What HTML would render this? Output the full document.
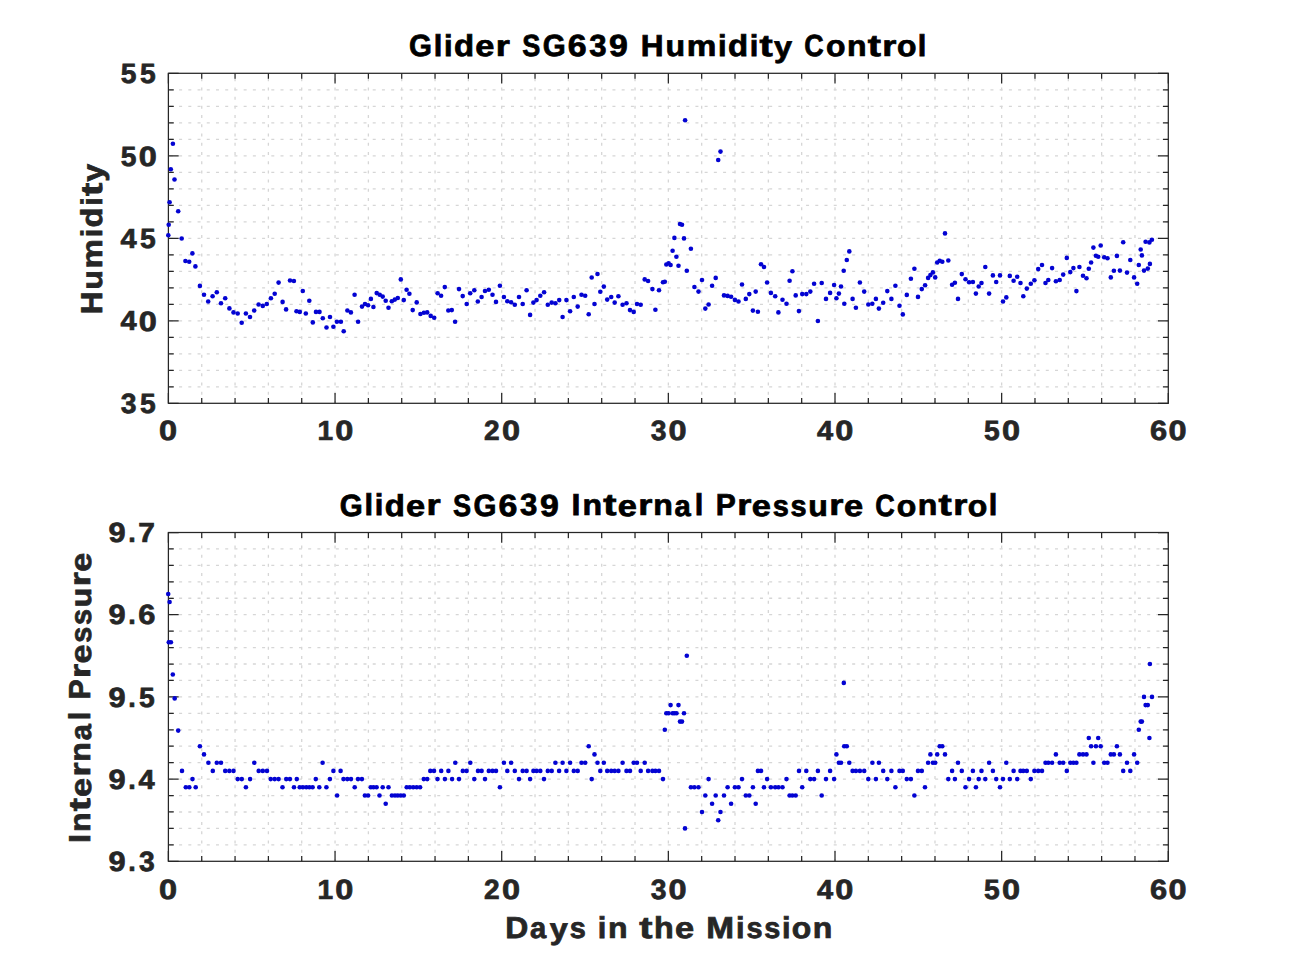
<!DOCTYPE html>
<html><head><meta charset="utf-8"><style>
html,body{margin:0;padding:0;background:#fff;overflow:hidden}
svg{display:block}
text{font-family:"Liberation Sans",sans-serif;font-weight:bold;font-kerning:none;text-rendering:geometricPrecision}
</style></head><body>
<svg width="1291" height="968" viewBox="0 0 1291 968">
<rect width="1291" height="968" fill="#fff"/>
<path d="M168.40 386.80H1168.30 M168.40 370.30H1168.30 M168.40 353.80H1168.30 M168.40 337.30H1168.30 M168.40 320.80H1168.30 M168.40 304.30H1168.30 M168.40 287.80H1168.30 M168.40 271.30H1168.30 M168.40 254.80H1168.30 M168.40 238.30H1168.30 M168.40 221.80H1168.30 M168.40 205.30H1168.30 M168.40 188.80H1168.30 M168.40 172.30H1168.30 M168.40 155.80H1168.30 M168.40 139.30H1168.30 M168.40 122.80H1168.30 M168.40 106.30H1168.30 M168.40 89.80H1168.30" stroke="#d6d6d6" stroke-width="1.3" stroke-dasharray="3.0 6.22" stroke-dashoffset="7.74" fill="none"/>
<path d="M201.73 403.30V73.30 M235.06 403.30V73.30 M268.39 403.30V73.30 M301.72 403.30V73.30 M335.05 403.30V73.30 M368.38 403.30V73.30 M401.71 403.30V73.30 M435.04 403.30V73.30 M468.37 403.30V73.30 M501.70 403.30V73.30 M535.03 403.30V73.30 M568.36 403.30V73.30 M601.69 403.30V73.30 M635.02 403.30V73.30 M668.35 403.30V73.30 M701.68 403.30V73.30 M735.01 403.30V73.30 M768.34 403.30V73.30 M801.67 403.30V73.30 M835.00 403.30V73.30 M868.33 403.30V73.30 M901.66 403.30V73.30 M934.99 403.30V73.30 M968.32 403.30V73.30 M1001.65 403.30V73.30 M1034.98 403.30V73.30 M1068.31 403.30V73.30 M1101.64 403.30V73.30 M1134.97 403.30V73.30" stroke="#d6d6d6" stroke-width="1.3" stroke-dasharray="3.0 6.22" stroke-dashoffset="0.6" fill="none"/>
<path d="M168.40 403.30v-10.3M168.40 73.30v10.3 M201.73 403.30v-5.4M201.73 73.30v5.4 M235.06 403.30v-5.4M235.06 73.30v5.4 M268.39 403.30v-5.4M268.39 73.30v5.4 M301.72 403.30v-5.4M301.72 73.30v5.4 M335.05 403.30v-10.3M335.05 73.30v10.3 M368.38 403.30v-5.4M368.38 73.30v5.4 M401.71 403.30v-5.4M401.71 73.30v5.4 M435.04 403.30v-5.4M435.04 73.30v5.4 M468.37 403.30v-5.4M468.37 73.30v5.4 M501.70 403.30v-10.3M501.70 73.30v10.3 M535.03 403.30v-5.4M535.03 73.30v5.4 M568.36 403.30v-5.4M568.36 73.30v5.4 M601.69 403.30v-5.4M601.69 73.30v5.4 M635.02 403.30v-5.4M635.02 73.30v5.4 M668.35 403.30v-10.3M668.35 73.30v10.3 M701.68 403.30v-5.4M701.68 73.30v5.4 M735.01 403.30v-5.4M735.01 73.30v5.4 M768.34 403.30v-5.4M768.34 73.30v5.4 M801.67 403.30v-5.4M801.67 73.30v5.4 M835.00 403.30v-10.3M835.00 73.30v10.3 M868.33 403.30v-5.4M868.33 73.30v5.4 M901.66 403.30v-5.4M901.66 73.30v5.4 M934.99 403.30v-5.4M934.99 73.30v5.4 M968.32 403.30v-5.4M968.32 73.30v5.4 M1001.65 403.30v-10.3M1001.65 73.30v10.3 M1034.98 403.30v-5.4M1034.98 73.30v5.4 M1068.31 403.30v-5.4M1068.31 73.30v5.4 M1101.64 403.30v-5.4M1101.64 73.30v5.4 M1134.97 403.30v-5.4M1134.97 73.30v5.4 M1168.30 403.30v-10.3M1168.30 73.30v10.3 M168.40 403.30h10.3M1168.30 403.30h-10.3 M168.40 386.80h5.4M1168.30 386.80h-5.4 M168.40 370.30h5.4M1168.30 370.30h-5.4 M168.40 353.80h5.4M1168.30 353.80h-5.4 M168.40 337.30h5.4M1168.30 337.30h-5.4 M168.40 320.80h10.3M1168.30 320.80h-10.3 M168.40 304.30h5.4M1168.30 304.30h-5.4 M168.40 287.80h5.4M1168.30 287.80h-5.4 M168.40 271.30h5.4M1168.30 271.30h-5.4 M168.40 254.80h5.4M1168.30 254.80h-5.4 M168.40 238.30h10.3M1168.30 238.30h-10.3 M168.40 221.80h5.4M1168.30 221.80h-5.4 M168.40 205.30h5.4M1168.30 205.30h-5.4 M168.40 188.80h5.4M1168.30 188.80h-5.4 M168.40 172.30h5.4M1168.30 172.30h-5.4 M168.40 155.80h10.3M1168.30 155.80h-10.3 M168.40 139.30h5.4M1168.30 139.30h-5.4 M168.40 122.80h5.4M1168.30 122.80h-5.4 M168.40 106.30h5.4M1168.30 106.30h-5.4 M168.40 89.80h5.4M1168.30 89.80h-5.4 M168.40 73.30h10.3M1168.30 73.30h-10.3" stroke="#262626" stroke-width="1.25" fill="none"/>
<rect x="168.40" y="73.30" width="999.90" height="330.00" stroke="#262626" stroke-width="1.25" fill="none"/>
<path d="M168.40 844.86H1168.30 M168.40 828.42H1168.30 M168.40 811.98H1168.30 M168.40 795.54H1168.30 M168.40 779.10H1168.30 M168.40 762.66H1168.30 M168.40 746.22H1168.30 M168.40 729.78H1168.30 M168.40 713.34H1168.30 M168.40 696.90H1168.30 M168.40 680.46H1168.30 M168.40 664.02H1168.30 M168.40 647.58H1168.30 M168.40 631.14H1168.30 M168.40 614.70H1168.30 M168.40 598.26H1168.30 M168.40 581.82H1168.30 M168.40 565.38H1168.30 M168.40 548.94H1168.30" stroke="#d6d6d6" stroke-width="1.3" stroke-dasharray="3.0 6.22" stroke-dashoffset="7.74" fill="none"/>
<path d="M201.73 861.30V532.50 M235.06 861.30V532.50 M268.39 861.30V532.50 M301.72 861.30V532.50 M335.05 861.30V532.50 M368.38 861.30V532.50 M401.71 861.30V532.50 M435.04 861.30V532.50 M468.37 861.30V532.50 M501.70 861.30V532.50 M535.03 861.30V532.50 M568.36 861.30V532.50 M601.69 861.30V532.50 M635.02 861.30V532.50 M668.35 861.30V532.50 M701.68 861.30V532.50 M735.01 861.30V532.50 M768.34 861.30V532.50 M801.67 861.30V532.50 M835.00 861.30V532.50 M868.33 861.30V532.50 M901.66 861.30V532.50 M934.99 861.30V532.50 M968.32 861.30V532.50 M1001.65 861.30V532.50 M1034.98 861.30V532.50 M1068.31 861.30V532.50 M1101.64 861.30V532.50 M1134.97 861.30V532.50" stroke="#d6d6d6" stroke-width="1.3" stroke-dasharray="3.0 6.22" stroke-dashoffset="0.6" fill="none"/>
<path d="M168.40 861.30v-10.3M168.40 532.50v10.3 M201.73 861.30v-5.4M201.73 532.50v5.4 M235.06 861.30v-5.4M235.06 532.50v5.4 M268.39 861.30v-5.4M268.39 532.50v5.4 M301.72 861.30v-5.4M301.72 532.50v5.4 M335.05 861.30v-10.3M335.05 532.50v10.3 M368.38 861.30v-5.4M368.38 532.50v5.4 M401.71 861.30v-5.4M401.71 532.50v5.4 M435.04 861.30v-5.4M435.04 532.50v5.4 M468.37 861.30v-5.4M468.37 532.50v5.4 M501.70 861.30v-10.3M501.70 532.50v10.3 M535.03 861.30v-5.4M535.03 532.50v5.4 M568.36 861.30v-5.4M568.36 532.50v5.4 M601.69 861.30v-5.4M601.69 532.50v5.4 M635.02 861.30v-5.4M635.02 532.50v5.4 M668.35 861.30v-10.3M668.35 532.50v10.3 M701.68 861.30v-5.4M701.68 532.50v5.4 M735.01 861.30v-5.4M735.01 532.50v5.4 M768.34 861.30v-5.4M768.34 532.50v5.4 M801.67 861.30v-5.4M801.67 532.50v5.4 M835.00 861.30v-10.3M835.00 532.50v10.3 M868.33 861.30v-5.4M868.33 532.50v5.4 M901.66 861.30v-5.4M901.66 532.50v5.4 M934.99 861.30v-5.4M934.99 532.50v5.4 M968.32 861.30v-5.4M968.32 532.50v5.4 M1001.65 861.30v-10.3M1001.65 532.50v10.3 M1034.98 861.30v-5.4M1034.98 532.50v5.4 M1068.31 861.30v-5.4M1068.31 532.50v5.4 M1101.64 861.30v-5.4M1101.64 532.50v5.4 M1134.97 861.30v-5.4M1134.97 532.50v5.4 M1168.30 861.30v-10.3M1168.30 532.50v10.3 M168.40 861.30h10.3M1168.30 861.30h-10.3 M168.40 844.86h5.4M1168.30 844.86h-5.4 M168.40 828.42h5.4M1168.30 828.42h-5.4 M168.40 811.98h5.4M1168.30 811.98h-5.4 M168.40 795.54h5.4M1168.30 795.54h-5.4 M168.40 779.10h10.3M1168.30 779.10h-10.3 M168.40 762.66h5.4M1168.30 762.66h-5.4 M168.40 746.22h5.4M1168.30 746.22h-5.4 M168.40 729.78h5.4M1168.30 729.78h-5.4 M168.40 713.34h5.4M1168.30 713.34h-5.4 M168.40 696.90h10.3M1168.30 696.90h-10.3 M168.40 680.46h5.4M1168.30 680.46h-5.4 M168.40 664.02h5.4M1168.30 664.02h-5.4 M168.40 647.58h5.4M1168.30 647.58h-5.4 M168.40 631.14h5.4M1168.30 631.14h-5.4 M168.40 614.70h10.3M1168.30 614.70h-10.3 M168.40 598.26h5.4M1168.30 598.26h-5.4 M168.40 581.82h5.4M1168.30 581.82h-5.4 M168.40 565.38h5.4M1168.30 565.38h-5.4 M168.40 548.94h5.4M1168.30 548.94h-5.4 M168.40 532.50h10.3M1168.30 532.50h-10.3" stroke="#262626" stroke-width="1.25" fill="none"/>
<rect x="168.40" y="532.50" width="999.90" height="328.80" stroke="#262626" stroke-width="1.25" fill="none"/>
<g fill="#0303d2"><circle cx="172.9" cy="143.7" r="2.3"/><circle cx="170.8" cy="169.3" r="2.3"/><circle cx="174.5" cy="179.5" r="2.3"/><circle cx="169.6" cy="202.2" r="2.3"/><circle cx="178.2" cy="211.3" r="2.3"/><circle cx="168.7" cy="224.8" r="2.3"/><circle cx="168.3" cy="235.2" r="2.3"/><circle cx="181.7" cy="238.5" r="2.3"/><circle cx="192.4" cy="253.4" r="2.3"/><circle cx="185.4" cy="261.0" r="2.3"/><circle cx="189.2" cy="261.7" r="2.3"/><circle cx="195.4" cy="266.4" r="2.3"/><circle cx="199.9" cy="285.9" r="2.3"/><circle cx="204.0" cy="294.7" r="2.3"/><circle cx="208.2" cy="301.5" r="2.3"/><circle cx="212.6" cy="296.3" r="2.3"/><circle cx="216.8" cy="292.2" r="2.3"/><circle cx="221.0" cy="303.3" r="2.3"/><circle cx="225.2" cy="298.2" r="2.3"/><circle cx="229.4" cy="308.4" r="2.3"/><circle cx="233.5" cy="312.4" r="2.3"/><circle cx="237.7" cy="313.5" r="2.3"/><circle cx="241.7" cy="322.8" r="2.3"/><circle cx="245.9" cy="313.5" r="2.3"/><circle cx="250.0" cy="317.0" r="2.3"/><circle cx="254.2" cy="310.5" r="2.3"/><circle cx="258.6" cy="304.5" r="2.3"/><circle cx="262.8" cy="305.9" r="2.3"/><circle cx="266.8" cy="304.0" r="2.3"/><circle cx="270.9" cy="298.2" r="2.3"/><circle cx="274.7" cy="293.8" r="2.3"/><circle cx="278.6" cy="282.6" r="2.3"/><circle cx="282.6" cy="301.9" r="2.3"/><circle cx="286.1" cy="309.4" r="2.3"/><circle cx="290.0" cy="280.5" r="2.3"/><circle cx="293.9" cy="281.0" r="2.3"/><circle cx="296.5" cy="311.2" r="2.3"/><circle cx="299.8" cy="311.9" r="2.3"/><circle cx="302.8" cy="291.0" r="2.3"/><circle cx="305.8" cy="313.5" r="2.3"/><circle cx="309.3" cy="300.8" r="2.3"/><circle cx="312.8" cy="322.4" r="2.3"/><circle cx="316.0" cy="311.9" r="2.3"/><circle cx="319.5" cy="311.9" r="2.3"/><circle cx="322.8" cy="318.2" r="2.3"/><circle cx="326.5" cy="327.5" r="2.3"/><circle cx="330.0" cy="317.0" r="2.3"/><circle cx="333.4" cy="326.8" r="2.3"/><circle cx="336.9" cy="321.7" r="2.3"/><circle cx="340.9" cy="321.7" r="2.3"/><circle cx="343.7" cy="331.2" r="2.3"/><circle cx="347.4" cy="310.5" r="2.3"/><circle cx="350.9" cy="312.4" r="2.3"/><circle cx="354.6" cy="294.7" r="2.3"/><circle cx="358.1" cy="321.7" r="2.3"/><circle cx="362.0" cy="306.6" r="2.3"/><circle cx="365.0" cy="304.0" r="2.3"/><circle cx="368.1" cy="305.2" r="2.3"/><circle cx="370.9" cy="298.9" r="2.3"/><circle cx="373.4" cy="307.0" r="2.3"/><circle cx="376.7" cy="293.1" r="2.3"/><circle cx="379.7" cy="294.7" r="2.3"/><circle cx="382.7" cy="296.6" r="2.3"/><circle cx="385.7" cy="300.8" r="2.3"/><circle cx="388.5" cy="307.7" r="2.3"/><circle cx="391.8" cy="301.2" r="2.3"/><circle cx="394.8" cy="299.6" r="2.3"/><circle cx="397.8" cy="298.0" r="2.3"/><circle cx="400.8" cy="279.4" r="2.3"/><circle cx="403.8" cy="300.1" r="2.3"/><circle cx="406.6" cy="289.8" r="2.3"/><circle cx="409.4" cy="293.8" r="2.3"/><circle cx="412.7" cy="310.1" r="2.3"/><circle cx="416.7" cy="302.4" r="2.3"/><circle cx="420.4" cy="314.0" r="2.3"/><circle cx="423.9" cy="312.8" r="2.3"/><circle cx="427.2" cy="312.4" r="2.3"/><circle cx="430.7" cy="315.9" r="2.3"/><circle cx="434.2" cy="317.7" r="2.3"/><circle cx="437.6" cy="293.3" r="2.3"/><circle cx="441.1" cy="295.7" r="2.3"/><circle cx="444.8" cy="287.1" r="2.3"/><circle cx="448.3" cy="310.5" r="2.3"/><circle cx="451.8" cy="310.1" r="2.3"/><circle cx="455.1" cy="321.7" r="2.3"/><circle cx="459.0" cy="289.1" r="2.3"/><circle cx="462.7" cy="296.1" r="2.3"/><circle cx="466.7" cy="304.0" r="2.3"/><circle cx="470.2" cy="293.3" r="2.3"/><circle cx="474.3" cy="290.3" r="2.3"/><circle cx="477.8" cy="301.5" r="2.3"/><circle cx="481.6" cy="297.0" r="2.3"/><circle cx="485.0" cy="291.0" r="2.3"/><circle cx="488.8" cy="289.8" r="2.3"/><circle cx="492.5" cy="294.7" r="2.3"/><circle cx="496.0" cy="301.9" r="2.3"/><circle cx="499.9" cy="285.7" r="2.3"/><circle cx="503.9" cy="297.0" r="2.3"/><circle cx="507.3" cy="301.2" r="2.3"/><circle cx="511.1" cy="302.2" r="2.3"/><circle cx="514.8" cy="304.7" r="2.3"/><circle cx="519.0" cy="297.0" r="2.3"/><circle cx="522.7" cy="304.0" r="2.3"/><circle cx="526.6" cy="290.3" r="2.3"/><circle cx="530.1" cy="314.9" r="2.3"/><circle cx="533.4" cy="302.6" r="2.3"/><circle cx="536.6" cy="300.1" r="2.3"/><circle cx="540.3" cy="295.7" r="2.3"/><circle cx="544.1" cy="292.2" r="2.3"/><circle cx="547.8" cy="304.7" r="2.3"/><circle cx="551.7" cy="302.6" r="2.3"/><circle cx="555.4" cy="303.3" r="2.3"/><circle cx="559.2" cy="300.1" r="2.3"/><circle cx="562.6" cy="317.0" r="2.3"/><circle cx="566.4" cy="300.1" r="2.3"/><circle cx="570.1" cy="311.2" r="2.3"/><circle cx="573.8" cy="297.0" r="2.3"/><circle cx="577.7" cy="306.6" r="2.3"/><circle cx="581.5" cy="294.7" r="2.3"/><circle cx="585.2" cy="295.7" r="2.3"/><circle cx="588.7" cy="314.2" r="2.3"/><circle cx="591.7" cy="277.5" r="2.3"/><circle cx="594.5" cy="304.0" r="2.3"/><circle cx="597.5" cy="274.0" r="2.3"/><circle cx="600.3" cy="291.7" r="2.3"/><circle cx="603.8" cy="286.6" r="2.3"/><circle cx="607.2" cy="299.6" r="2.3"/><circle cx="611.2" cy="297.0" r="2.3"/><circle cx="614.7" cy="302.6" r="2.3"/><circle cx="618.4" cy="296.3" r="2.3"/><circle cx="622.6" cy="304.7" r="2.3"/><circle cx="626.5" cy="303.3" r="2.3"/><circle cx="630.0" cy="310.1" r="2.3"/><circle cx="633.7" cy="311.9" r="2.3"/><circle cx="637.0" cy="304.0" r="2.3"/><circle cx="640.7" cy="304.7" r="2.3"/><circle cx="644.7" cy="279.4" r="2.3"/><circle cx="648.1" cy="281.0" r="2.3"/><circle cx="652.4" cy="289.1" r="2.3"/><circle cx="655.4" cy="309.8" r="2.3"/><circle cx="659.0" cy="290.3" r="2.3"/><circle cx="663.0" cy="282.2" r="2.3"/><circle cx="664.8" cy="281.7" r="2.3"/><circle cx="666.3" cy="264.5" r="2.3"/><circle cx="668.6" cy="263.2" r="2.3"/><circle cx="670.6" cy="265.0" r="2.3"/><circle cx="672.6" cy="250.8" r="2.3"/><circle cx="674.4" cy="237.9" r="2.3"/><circle cx="676.4" cy="256.7" r="2.3"/><circle cx="678.5" cy="265.8" r="2.3"/><circle cx="680.0" cy="224.0" r="2.3"/><circle cx="682.0" cy="224.8" r="2.3"/><circle cx="684.0" cy="238.4" r="2.3"/><circle cx="685.1" cy="120.2" r="2.3"/><circle cx="686.8" cy="270.8" r="2.3"/><circle cx="690.9" cy="248.8" r="2.3"/><circle cx="694.4" cy="287.0" r="2.3"/><circle cx="698.5" cy="291.6" r="2.3"/><circle cx="702.0" cy="280.0" r="2.3"/><circle cx="705.3" cy="308.6" r="2.3"/><circle cx="708.6" cy="304.5" r="2.3"/><circle cx="712.1" cy="285.8" r="2.3"/><circle cx="715.7" cy="277.9" r="2.3"/><circle cx="718.2" cy="160.0" r="2.3"/><circle cx="720.5" cy="151.6" r="2.3"/><circle cx="724.0" cy="295.4" r="2.3"/><circle cx="727.6" cy="295.9" r="2.3"/><circle cx="731.1" cy="296.7" r="2.3"/><circle cx="734.9" cy="299.9" r="2.3"/><circle cx="738.5" cy="301.5" r="2.3"/><circle cx="742.0" cy="284.5" r="2.3"/><circle cx="745.8" cy="298.9" r="2.3"/><circle cx="749.3" cy="294.1" r="2.3"/><circle cx="752.9" cy="310.6" r="2.3"/><circle cx="755.7" cy="291.6" r="2.3"/><circle cx="757.9" cy="311.8" r="2.3"/><circle cx="761.0" cy="264.3" r="2.3"/><circle cx="764.0" cy="267.0" r="2.3"/><circle cx="767.1" cy="282.5" r="2.3"/><circle cx="770.9" cy="292.9" r="2.3"/><circle cx="775.2" cy="296.2" r="2.3"/><circle cx="778.4" cy="312.4" r="2.3"/><circle cx="782.5" cy="299.7" r="2.3"/><circle cx="786.5" cy="303.7" r="2.3"/><circle cx="789.6" cy="280.7" r="2.3"/><circle cx="792.4" cy="271.3" r="2.3"/><circle cx="795.7" cy="295.4" r="2.3"/><circle cx="798.9" cy="311.1" r="2.3"/><circle cx="802.2" cy="294.1" r="2.3"/><circle cx="806.3" cy="294.1" r="2.3"/><circle cx="810.3" cy="291.6" r="2.3"/><circle cx="814.1" cy="283.8" r="2.3"/><circle cx="817.9" cy="321.0" r="2.3"/><circle cx="821.7" cy="283.0" r="2.3"/><circle cx="826.0" cy="298.9" r="2.3"/><circle cx="830.1" cy="292.9" r="2.3"/><circle cx="834.1" cy="285.0" r="2.3"/><circle cx="836.4" cy="298.2" r="2.3"/><circle cx="838.9" cy="293.6" r="2.3"/><circle cx="841.0" cy="286.5" r="2.3"/><circle cx="843.7" cy="270.8" r="2.3"/><circle cx="844.3" cy="303.7" r="2.3"/><circle cx="846.8" cy="260.0" r="2.3"/><circle cx="849.3" cy="251.4" r="2.3"/><circle cx="852.6" cy="298.9" r="2.3"/><circle cx="855.9" cy="307.8" r="2.3"/><circle cx="859.9" cy="282.5" r="2.3"/><circle cx="864.2" cy="291.6" r="2.3"/><circle cx="868.3" cy="304.5" r="2.3"/><circle cx="872.3" cy="303.7" r="2.3"/><circle cx="875.9" cy="298.9" r="2.3"/><circle cx="878.9" cy="308.6" r="2.3"/><circle cx="883.2" cy="302.7" r="2.3"/><circle cx="887.3" cy="291.1" r="2.3"/><circle cx="891.4" cy="298.9" r="2.3"/><circle cx="895.4" cy="285.8" r="2.3"/><circle cx="899.5" cy="305.8" r="2.3"/><circle cx="902.8" cy="314.4" r="2.3"/><circle cx="906.8" cy="294.9" r="2.3"/><circle cx="910.9" cy="278.7" r="2.3"/><circle cx="914.4" cy="268.8" r="2.3"/><circle cx="918.0" cy="296.9" r="2.3"/><circle cx="921.8" cy="289.1" r="2.3"/><circle cx="925.1" cy="285.3" r="2.3"/><circle cx="928.1" cy="277.9" r="2.3"/><circle cx="930.4" cy="275.1" r="2.3"/><circle cx="932.9" cy="272.4" r="2.3"/><circle cx="935.2" cy="277.4" r="2.3"/><circle cx="937.2" cy="262.5" r="2.3"/><circle cx="939.7" cy="260.7" r="2.3"/><circle cx="942.3" cy="261.7" r="2.3"/><circle cx="945.0" cy="233.4" r="2.3"/><circle cx="948.3" cy="260.5" r="2.3"/><circle cx="952.1" cy="284.8" r="2.3"/><circle cx="954.9" cy="282.7" r="2.3"/><circle cx="958.0" cy="298.9" r="2.3"/><circle cx="961.8" cy="274.1" r="2.3"/><circle cx="965.5" cy="279.2" r="2.3"/><circle cx="969.1" cy="282.2" r="2.3"/><circle cx="972.9" cy="282.0" r="2.3"/><circle cx="975.9" cy="293.6" r="2.3"/><circle cx="978.7" cy="286.5" r="2.3"/><circle cx="981.5" cy="283.0" r="2.3"/><circle cx="985.3" cy="267.0" r="2.3"/><circle cx="989.1" cy="293.6" r="2.3"/><circle cx="992.9" cy="275.4" r="2.3"/><circle cx="996.2" cy="282.0" r="2.3"/><circle cx="1000.0" cy="275.4" r="2.3"/><circle cx="1003.0" cy="301.5" r="2.3"/><circle cx="1006.3" cy="297.4" r="2.3"/><circle cx="1009.8" cy="275.9" r="2.3"/><circle cx="1013.6" cy="280.7" r="2.3"/><circle cx="1017.2" cy="276.7" r="2.3"/><circle cx="1020.5" cy="283.0" r="2.3"/><circle cx="1023.3" cy="296.2" r="2.3"/><circle cx="1026.8" cy="288.6" r="2.3"/><circle cx="1030.8" cy="283.8" r="2.3"/><circle cx="1034.4" cy="280.2" r="2.3"/><circle cx="1038.2" cy="269.1" r="2.3"/><circle cx="1042.0" cy="265.0" r="2.3"/><circle cx="1045.5" cy="283.0" r="2.3"/><circle cx="1048.3" cy="280.0" r="2.3"/><circle cx="1052.1" cy="268.1" r="2.3"/><circle cx="1055.9" cy="281.2" r="2.3"/><circle cx="1059.7" cy="280.0" r="2.3"/><circle cx="1063.2" cy="274.6" r="2.3"/><circle cx="1066.8" cy="257.9" r="2.3"/><circle cx="1070.3" cy="272.1" r="2.3"/><circle cx="1073.4" cy="268.1" r="2.3"/><circle cx="1076.4" cy="291.1" r="2.3"/><circle cx="1079.4" cy="267.0" r="2.3"/><circle cx="1083.0" cy="275.7" r="2.3"/><circle cx="1086.5" cy="278.2" r="2.3"/><circle cx="1088.8" cy="268.8" r="2.3"/><circle cx="1091.1" cy="262.5" r="2.3"/><circle cx="1093.4" cy="247.6" r="2.3"/><circle cx="1095.9" cy="255.7" r="2.3"/><circle cx="1098.2" cy="256.7" r="2.3"/><circle cx="1100.7" cy="245.5" r="2.3"/><circle cx="1104.2" cy="257.2" r="2.3"/><circle cx="1107.5" cy="258.2" r="2.3"/><circle cx="1110.8" cy="277.4" r="2.3"/><circle cx="1113.9" cy="270.8" r="2.3"/><circle cx="1116.9" cy="255.9" r="2.3"/><circle cx="1119.9" cy="270.6" r="2.3"/><circle cx="1123.2" cy="242.2" r="2.3"/><circle cx="1127.0" cy="272.6" r="2.3"/><circle cx="1130.3" cy="260.0" r="2.3"/><circle cx="1134.1" cy="277.4" r="2.3"/><circle cx="1137.2" cy="283.8" r="2.3"/><circle cx="1138.8" cy="265.0" r="2.3"/><circle cx="1140.7" cy="249.5" r="2.3"/><circle cx="1141.9" cy="255.4" r="2.3"/><circle cx="1144.0" cy="270.6" r="2.3"/><circle cx="1145.6" cy="241.7" r="2.3"/><circle cx="1147.8" cy="268.6" r="2.3"/><circle cx="1149.4" cy="242.4" r="2.3"/><circle cx="1149.9" cy="263.9" r="2.3"/><circle cx="1151.9" cy="239.7" r="2.3"/><circle cx="168.2" cy="594.0" r="2.3"/><circle cx="169.6" cy="602.0" r="2.3"/><circle cx="168.8" cy="642.3" r="2.3"/><circle cx="170.9" cy="642.3" r="2.3"/><circle cx="172.8" cy="674.5" r="2.3"/><circle cx="174.7" cy="698.4" r="2.3"/><circle cx="178.2" cy="730.6" r="2.3"/><circle cx="182.0" cy="770.9" r="2.3"/><circle cx="185.8" cy="787.3" r="2.3"/><circle cx="189.3" cy="787.3" r="2.3"/><circle cx="192.5" cy="779.1" r="2.3"/><circle cx="195.7" cy="787.3" r="2.3"/><circle cx="199.9" cy="746.2" r="2.3"/><circle cx="204.0" cy="754.4" r="2.3"/><circle cx="208.4" cy="762.7" r="2.3"/><circle cx="212.8" cy="770.9" r="2.3"/><circle cx="216.8" cy="762.7" r="2.3"/><circle cx="221.0" cy="762.7" r="2.3"/><circle cx="225.2" cy="770.9" r="2.3"/><circle cx="229.3" cy="770.9" r="2.3"/><circle cx="233.5" cy="770.9" r="2.3"/><circle cx="237.7" cy="779.1" r="2.3"/><circle cx="241.8" cy="779.1" r="2.3"/><circle cx="245.9" cy="787.3" r="2.3"/><circle cx="250.1" cy="779.1" r="2.3"/><circle cx="254.3" cy="762.7" r="2.3"/><circle cx="258.7" cy="770.9" r="2.3"/><circle cx="262.8" cy="770.9" r="2.3"/><circle cx="267.0" cy="770.9" r="2.3"/><circle cx="270.7" cy="779.1" r="2.3"/><circle cx="274.7" cy="779.1" r="2.3"/><circle cx="278.6" cy="779.1" r="2.3"/><circle cx="282.5" cy="787.3" r="2.3"/><circle cx="286.2" cy="779.1" r="2.3"/><circle cx="289.9" cy="779.1" r="2.3"/><circle cx="294.0" cy="787.3" r="2.3"/><circle cx="296.8" cy="779.1" r="2.3"/><circle cx="299.7" cy="787.3" r="2.3"/><circle cx="302.9" cy="787.3" r="2.3"/><circle cx="306.3" cy="787.3" r="2.3"/><circle cx="309.4" cy="787.3" r="2.3"/><circle cx="312.6" cy="787.3" r="2.3"/><circle cx="315.8" cy="779.1" r="2.3"/><circle cx="319.3" cy="787.3" r="2.3"/><circle cx="322.6" cy="762.7" r="2.3"/><circle cx="326.4" cy="787.3" r="2.3"/><circle cx="329.9" cy="779.1" r="2.3"/><circle cx="333.4" cy="770.9" r="2.3"/><circle cx="337.1" cy="795.5" r="2.3"/><circle cx="340.6" cy="770.9" r="2.3"/><circle cx="343.5" cy="779.1" r="2.3"/><circle cx="347.3" cy="779.1" r="2.3"/><circle cx="351.0" cy="779.1" r="2.3"/><circle cx="354.7" cy="787.3" r="2.3"/><circle cx="358.0" cy="779.1" r="2.3"/><circle cx="361.9" cy="779.1" r="2.3"/><circle cx="364.9" cy="795.5" r="2.3"/><circle cx="368.1" cy="795.5" r="2.3"/><circle cx="370.8" cy="787.3" r="2.3"/><circle cx="373.5" cy="787.3" r="2.3"/><circle cx="376.6" cy="787.3" r="2.3"/><circle cx="379.5" cy="795.5" r="2.3"/><circle cx="382.7" cy="787.3" r="2.3"/><circle cx="385.7" cy="803.8" r="2.3"/><circle cx="388.5" cy="787.3" r="2.3"/><circle cx="391.9" cy="795.5" r="2.3"/><circle cx="395.0" cy="795.5" r="2.3"/><circle cx="397.8" cy="795.5" r="2.3"/><circle cx="400.8" cy="795.5" r="2.3"/><circle cx="403.8" cy="795.5" r="2.3"/><circle cx="406.7" cy="787.3" r="2.3"/><circle cx="409.8" cy="787.3" r="2.3"/><circle cx="413.2" cy="787.3" r="2.3"/><circle cx="416.7" cy="787.3" r="2.3"/><circle cx="420.1" cy="787.3" r="2.3"/><circle cx="423.8" cy="779.1" r="2.3"/><circle cx="427.2" cy="779.1" r="2.3"/><circle cx="430.3" cy="770.9" r="2.3"/><circle cx="434.0" cy="770.9" r="2.3"/><circle cx="437.5" cy="779.1" r="2.3"/><circle cx="441.2" cy="770.9" r="2.3"/><circle cx="444.9" cy="779.1" r="2.3"/><circle cx="448.4" cy="770.9" r="2.3"/><circle cx="452.1" cy="779.1" r="2.3"/><circle cx="455.3" cy="762.7" r="2.3"/><circle cx="459.0" cy="779.1" r="2.3"/><circle cx="462.8" cy="770.9" r="2.3"/><circle cx="466.6" cy="770.9" r="2.3"/><circle cx="470.3" cy="762.7" r="2.3"/><circle cx="474.3" cy="779.1" r="2.3"/><circle cx="478.0" cy="770.9" r="2.3"/><circle cx="481.6" cy="770.9" r="2.3"/><circle cx="485.0" cy="779.1" r="2.3"/><circle cx="488.8" cy="770.9" r="2.3"/><circle cx="492.5" cy="770.9" r="2.3"/><circle cx="496.0" cy="770.9" r="2.3"/><circle cx="499.9" cy="787.3" r="2.3"/><circle cx="503.9" cy="762.7" r="2.3"/><circle cx="507.3" cy="770.9" r="2.3"/><circle cx="511.1" cy="762.7" r="2.3"/><circle cx="514.8" cy="770.9" r="2.3"/><circle cx="519.0" cy="779.1" r="2.3"/><circle cx="522.7" cy="770.9" r="2.3"/><circle cx="526.6" cy="770.9" r="2.3"/><circle cx="530.1" cy="779.1" r="2.3"/><circle cx="533.4" cy="770.9" r="2.3"/><circle cx="536.6" cy="770.9" r="2.3"/><circle cx="540.3" cy="770.9" r="2.3"/><circle cx="544.0" cy="779.1" r="2.3"/><circle cx="547.8" cy="770.9" r="2.3"/><circle cx="551.7" cy="770.9" r="2.3"/><circle cx="555.4" cy="762.7" r="2.3"/><circle cx="559.1" cy="770.9" r="2.3"/><circle cx="562.6" cy="762.7" r="2.3"/><circle cx="566.4" cy="770.9" r="2.3"/><circle cx="570.1" cy="762.7" r="2.3"/><circle cx="573.8" cy="770.9" r="2.3"/><circle cx="577.7" cy="770.9" r="2.3"/><circle cx="581.5" cy="762.7" r="2.3"/><circle cx="585.2" cy="762.7" r="2.3"/><circle cx="588.7" cy="746.2" r="2.3"/><circle cx="591.7" cy="779.1" r="2.3"/><circle cx="594.5" cy="754.4" r="2.3"/><circle cx="597.5" cy="762.7" r="2.3"/><circle cx="600.3" cy="770.9" r="2.3"/><circle cx="603.8" cy="762.7" r="2.3"/><circle cx="607.2" cy="770.9" r="2.3"/><circle cx="611.2" cy="770.9" r="2.3"/><circle cx="614.7" cy="770.9" r="2.3"/><circle cx="618.4" cy="770.9" r="2.3"/><circle cx="622.6" cy="762.7" r="2.3"/><circle cx="626.5" cy="770.9" r="2.3"/><circle cx="630.0" cy="770.9" r="2.3"/><circle cx="633.7" cy="762.7" r="2.3"/><circle cx="637.0" cy="762.7" r="2.3"/><circle cx="640.7" cy="770.9" r="2.3"/><circle cx="644.7" cy="762.7" r="2.3"/><circle cx="648.1" cy="770.9" r="2.3"/><circle cx="652.4" cy="770.9" r="2.3"/><circle cx="655.4" cy="770.9" r="2.3"/><circle cx="659.0" cy="770.9" r="2.3"/><circle cx="663.0" cy="779.1" r="2.3"/><circle cx="664.8" cy="729.8" r="2.3"/><circle cx="666.3" cy="713.3" r="2.3"/><circle cx="668.6" cy="713.3" r="2.3"/><circle cx="670.6" cy="705.1" r="2.3"/><circle cx="672.6" cy="713.3" r="2.3"/><circle cx="674.4" cy="713.3" r="2.3"/><circle cx="676.5" cy="713.3" r="2.3"/><circle cx="678.5" cy="705.1" r="2.3"/><circle cx="680.0" cy="721.6" r="2.3"/><circle cx="682.0" cy="721.6" r="2.3"/><circle cx="684.0" cy="713.3" r="2.3"/><circle cx="685.0" cy="828.4" r="2.3"/><circle cx="686.8" cy="655.8" r="2.3"/><circle cx="690.9" cy="787.3" r="2.3"/><circle cx="694.4" cy="787.3" r="2.3"/><circle cx="698.5" cy="787.3" r="2.3"/><circle cx="702.0" cy="812.0" r="2.3"/><circle cx="705.3" cy="795.5" r="2.3"/><circle cx="708.6" cy="779.1" r="2.3"/><circle cx="712.1" cy="803.8" r="2.3"/><circle cx="715.7" cy="795.5" r="2.3"/><circle cx="718.2" cy="820.2" r="2.3"/><circle cx="720.5" cy="812.0" r="2.3"/><circle cx="724.0" cy="795.5" r="2.3"/><circle cx="727.6" cy="787.3" r="2.3"/><circle cx="731.1" cy="803.8" r="2.3"/><circle cx="734.9" cy="787.3" r="2.3"/><circle cx="738.5" cy="787.3" r="2.3"/><circle cx="742.0" cy="779.1" r="2.3"/><circle cx="745.8" cy="795.5" r="2.3"/><circle cx="749.3" cy="795.5" r="2.3"/><circle cx="752.9" cy="787.3" r="2.3"/><circle cx="755.7" cy="803.8" r="2.3"/><circle cx="757.9" cy="770.9" r="2.3"/><circle cx="761.0" cy="770.9" r="2.3"/><circle cx="764.0" cy="787.3" r="2.3"/><circle cx="767.1" cy="779.1" r="2.3"/><circle cx="770.9" cy="787.3" r="2.3"/><circle cx="775.2" cy="787.3" r="2.3"/><circle cx="778.5" cy="787.3" r="2.3"/><circle cx="782.5" cy="787.3" r="2.3"/><circle cx="786.5" cy="779.1" r="2.3"/><circle cx="789.6" cy="795.5" r="2.3"/><circle cx="792.4" cy="795.5" r="2.3"/><circle cx="795.7" cy="795.5" r="2.3"/><circle cx="799.0" cy="770.9" r="2.3"/><circle cx="802.2" cy="787.3" r="2.3"/><circle cx="806.3" cy="770.9" r="2.3"/><circle cx="810.3" cy="779.1" r="2.3"/><circle cx="814.1" cy="779.1" r="2.3"/><circle cx="817.9" cy="770.9" r="2.3"/><circle cx="821.7" cy="795.5" r="2.3"/><circle cx="826.0" cy="779.1" r="2.3"/><circle cx="830.1" cy="770.9" r="2.3"/><circle cx="834.1" cy="779.1" r="2.3"/><circle cx="836.4" cy="754.4" r="2.3"/><circle cx="838.9" cy="762.7" r="2.3"/><circle cx="841.0" cy="762.7" r="2.3"/><circle cx="843.8" cy="682.9" r="2.3"/><circle cx="844.2" cy="746.2" r="2.3"/><circle cx="846.8" cy="746.2" r="2.3"/><circle cx="849.3" cy="762.7" r="2.3"/><circle cx="852.6" cy="770.9" r="2.3"/><circle cx="855.9" cy="770.9" r="2.3"/><circle cx="859.9" cy="770.9" r="2.3"/><circle cx="864.2" cy="770.9" r="2.3"/><circle cx="868.3" cy="779.1" r="2.3"/><circle cx="872.4" cy="762.7" r="2.3"/><circle cx="875.9" cy="779.1" r="2.3"/><circle cx="878.9" cy="762.7" r="2.3"/><circle cx="883.2" cy="770.9" r="2.3"/><circle cx="887.3" cy="779.1" r="2.3"/><circle cx="891.4" cy="770.9" r="2.3"/><circle cx="895.4" cy="787.3" r="2.3"/><circle cx="899.5" cy="770.9" r="2.3"/><circle cx="902.8" cy="770.9" r="2.3"/><circle cx="906.8" cy="779.1" r="2.3"/><circle cx="910.9" cy="779.1" r="2.3"/><circle cx="914.4" cy="795.5" r="2.3"/><circle cx="918.0" cy="770.9" r="2.3"/><circle cx="921.8" cy="770.9" r="2.3"/><circle cx="925.0" cy="787.3" r="2.3"/><circle cx="928.1" cy="762.7" r="2.3"/><circle cx="930.4" cy="754.4" r="2.3"/><circle cx="932.9" cy="762.7" r="2.3"/><circle cx="935.2" cy="762.7" r="2.3"/><circle cx="937.2" cy="754.4" r="2.3"/><circle cx="939.7" cy="746.2" r="2.3"/><circle cx="942.3" cy="746.2" r="2.3"/><circle cx="945.0" cy="754.4" r="2.3"/><circle cx="948.3" cy="779.1" r="2.3"/><circle cx="952.1" cy="770.9" r="2.3"/><circle cx="954.9" cy="779.1" r="2.3"/><circle cx="958.0" cy="762.7" r="2.3"/><circle cx="961.8" cy="770.9" r="2.3"/><circle cx="965.5" cy="787.3" r="2.3"/><circle cx="969.1" cy="779.1" r="2.3"/><circle cx="972.9" cy="770.9" r="2.3"/><circle cx="975.9" cy="787.3" r="2.3"/><circle cx="978.7" cy="779.1" r="2.3"/><circle cx="981.5" cy="770.9" r="2.3"/><circle cx="985.3" cy="779.1" r="2.3"/><circle cx="989.1" cy="762.7" r="2.3"/><circle cx="992.9" cy="770.9" r="2.3"/><circle cx="996.2" cy="779.1" r="2.3"/><circle cx="1000.0" cy="787.3" r="2.3"/><circle cx="1003.0" cy="779.1" r="2.3"/><circle cx="1006.3" cy="762.7" r="2.3"/><circle cx="1009.8" cy="779.1" r="2.3"/><circle cx="1013.6" cy="770.9" r="2.3"/><circle cx="1017.2" cy="779.1" r="2.3"/><circle cx="1020.5" cy="770.9" r="2.3"/><circle cx="1023.2" cy="770.9" r="2.3"/><circle cx="1026.8" cy="770.9" r="2.3"/><circle cx="1030.8" cy="779.1" r="2.3"/><circle cx="1034.4" cy="770.9" r="2.3"/><circle cx="1038.2" cy="770.9" r="2.3"/><circle cx="1042.0" cy="770.9" r="2.3"/><circle cx="1045.5" cy="762.7" r="2.3"/><circle cx="1048.3" cy="762.7" r="2.3"/><circle cx="1052.1" cy="762.7" r="2.3"/><circle cx="1055.9" cy="754.4" r="2.3"/><circle cx="1059.7" cy="762.7" r="2.3"/><circle cx="1063.2" cy="762.7" r="2.3"/><circle cx="1066.8" cy="770.9" r="2.3"/><circle cx="1070.3" cy="762.7" r="2.3"/><circle cx="1073.4" cy="762.7" r="2.3"/><circle cx="1076.4" cy="762.7" r="2.3"/><circle cx="1079.4" cy="754.4" r="2.3"/><circle cx="1083.0" cy="754.4" r="2.3"/><circle cx="1086.5" cy="754.4" r="2.3"/><circle cx="1088.8" cy="738.0" r="2.3"/><circle cx="1091.1" cy="746.2" r="2.3"/><circle cx="1093.4" cy="762.7" r="2.3"/><circle cx="1095.9" cy="746.2" r="2.3"/><circle cx="1098.2" cy="738.0" r="2.3"/><circle cx="1100.7" cy="746.2" r="2.3"/><circle cx="1104.2" cy="762.7" r="2.3"/><circle cx="1107.5" cy="762.7" r="2.3"/><circle cx="1110.8" cy="754.4" r="2.3"/><circle cx="1113.9" cy="754.4" r="2.3"/><circle cx="1116.9" cy="746.2" r="2.3"/><circle cx="1119.9" cy="754.4" r="2.3"/><circle cx="1123.2" cy="770.9" r="2.3"/><circle cx="1127.0" cy="762.7" r="2.3"/><circle cx="1130.3" cy="770.9" r="2.3"/><circle cx="1134.1" cy="754.4" r="2.3"/><circle cx="1137.2" cy="762.7" r="2.3"/><circle cx="1138.8" cy="729.8" r="2.3"/><circle cx="1140.7" cy="721.6" r="2.3"/><circle cx="1141.9" cy="721.6" r="2.3"/><circle cx="1144.0" cy="696.9" r="2.3"/><circle cx="1145.6" cy="705.1" r="2.3"/><circle cx="1147.8" cy="705.1" r="2.3"/><circle cx="1149.4" cy="738.0" r="2.3"/><circle cx="1149.9" cy="664.0" r="2.3"/><circle cx="1152.0" cy="696.9" r="2.3"/></g>
<g fill="#000" font-size="40.0" stroke="#000" stroke-width="1.0"><text transform="matrix(0.7369 0 0 0.7649 409.04 56.43)">G</text><text transform="matrix(0.7721 0 0 0.7509 433.71 56.30)">l</text><text transform="matrix(0.7721 0 0 0.7509 443.98 56.30)">i</text><text transform="matrix(0.8228 0 0 0.7553 453.89 56.43)">d</text><text transform="matrix(0.8586 0 0 0.7395 475.28 56.44)">e</text><text transform="matrix(0.9065 0 0 0.7325 495.79 56.30)">r</text><text transform="matrix(0.6774 0 0 0.7649 522.24 56.43)">S</text><text transform="matrix(0.7369 0 0 0.7649 542.73 56.43)">G</text><text transform="matrix(0.8471 0 0 0.7638 567.66 56.43)">6</text><text transform="matrix(0.7775 0 0 0.7633 589.18 56.38)">3</text><text transform="matrix(0.8454 0 0 0.7638 609.11 56.43)">9</text><text transform="matrix(0.7899 0 0 0.7574 640.65 56.30)">H</text><text transform="matrix(0.8010 0 0 0.7345 665.44 56.44)">u</text><text transform="matrix(0.8330 0 0 0.7325 686.71 56.30)">m</text><text transform="matrix(0.7721 0 0 0.7509 718.00 56.30)">i</text><text transform="matrix(0.8228 0 0 0.7553 727.90 56.43)">d</text><text transform="matrix(0.7721 0 0 0.7509 749.72 56.30)">i</text><text transform="matrix(0.9916 0 0 0.7577 759.54 56.03)">t</text><text transform="matrix(0.8115 0 0 0.7424 774.06 56.60)">y</text><text transform="matrix(0.6722 0 0 0.7649 804.30 56.43)">C</text><text transform="matrix(0.7982 0 0 0.7395 825.94 56.44)">o</text><text transform="matrix(0.8010 0 0 0.7325 846.89 56.30)">n</text><text transform="matrix(0.9916 0 0 0.7577 867.72 56.03)">t</text><text transform="matrix(0.9065 0 0 0.7325 882.26 56.30)">r</text><text transform="matrix(0.7982 0 0 0.7395 896.95 56.44)">o</text><text transform="matrix(0.7721 0 0 0.7509 917.86 56.30)">l</text></g>
<g fill="#000" font-size="40.0" stroke="#000" stroke-width="1.0"><text transform="matrix(0.7372 0 0 0.7652 339.84 515.53)">G</text><text transform="matrix(0.7725 0 0 0.7512 364.52 515.40)">l</text><text transform="matrix(0.7725 0 0 0.7512 374.79 515.40)">i</text><text transform="matrix(0.8232 0 0 0.7557 384.70 515.53)">d</text><text transform="matrix(0.8590 0 0 0.7398 406.11 515.54)">e</text><text transform="matrix(0.9069 0 0 0.7328 426.62 515.40)">r</text><text transform="matrix(0.6777 0 0 0.7652 453.08 515.53)">S</text><text transform="matrix(0.7372 0 0 0.7652 473.58 515.53)">G</text><text transform="matrix(0.8475 0 0 0.7642 498.52 515.53)">6</text><text transform="matrix(0.7778 0 0 0.7636 520.05 515.48)">3</text><text transform="matrix(0.8458 0 0 0.7642 539.99 515.53)">9</text><text transform="matrix(0.8044 0 0 0.7577 571.50 515.40)">I</text><text transform="matrix(0.8014 0 0 0.7328 582.46 515.40)">n</text><text transform="matrix(0.9920 0 0 0.7580 603.31 515.13)">t</text><text transform="matrix(0.8590 0 0 0.7398 617.67 515.54)">e</text><text transform="matrix(0.9069 0 0 0.7328 638.18 515.40)">r</text><text transform="matrix(0.8014 0 0 0.7328 653.24 515.40)">n</text><text transform="matrix(0.7306 0 0 0.7398 674.61 515.54)">a</text><text transform="matrix(0.7725 0 0 0.7512 694.76 515.40)">l</text><text transform="matrix(0.7504 0 0 0.7577 715.86 515.40)">P</text><text transform="matrix(0.9069 0 0 0.7328 737.21 515.40)">r</text><text transform="matrix(0.8590 0 0 0.7398 751.81 515.54)">e</text><text transform="matrix(0.7224 0 0 0.7391 772.73 515.54)">s</text><text transform="matrix(0.7224 0 0 0.7391 790.57 515.54)">s</text><text transform="matrix(0.8014 0 0 0.7349 808.23 515.54)">u</text><text transform="matrix(0.9069 0 0 0.7328 829.34 515.40)">r</text><text transform="matrix(0.8590 0 0 0.7398 843.94 515.54)">e</text><text transform="matrix(0.6725 0 0 0.7652 875.15 515.53)">C</text><text transform="matrix(0.7986 0 0 0.7398 896.80 515.54)">o</text><text transform="matrix(0.8014 0 0 0.7328 917.75 515.40)">n</text><text transform="matrix(0.9920 0 0 0.7580 938.60 515.13)">t</text><text transform="matrix(0.9069 0 0 0.7328 953.14 515.40)">r</text><text transform="matrix(0.7986 0 0 0.7398 967.84 515.54)">o</text><text transform="matrix(0.7725 0 0 0.7512 988.75 515.40)">l</text></g>
<g fill="#262626" font-size="40.0" stroke="#262626" stroke-width="1.0"><text transform="matrix(0.7967 0 0 0.7570 505.22 938.20)">D</text><text transform="matrix(0.7299 0 0 0.7391 529.89 938.34)">a</text><text transform="matrix(0.8110 0 0 0.7420 549.78 938.50)">y</text><text transform="matrix(0.7217 0 0 0.7384 569.72 938.34)">s</text><text transform="matrix(0.7716 0 0 0.7505 597.80 938.20)">i</text><text transform="matrix(0.8006 0 0 0.7321 608.11 938.20)">n</text><text transform="matrix(0.9910 0 0 0.7573 639.36 937.93)">t</text><text transform="matrix(0.8071 0 0 0.7505 654.02 938.20)">h</text><text transform="matrix(0.8581 0 0 0.7391 675.03 938.34)">e</text><text transform="matrix(0.8326 0 0 0.7570 706.34 938.20)">M</text><text transform="matrix(0.7716 0 0 0.7505 735.98 938.20)">i</text><text transform="matrix(0.7217 0 0 0.7384 746.42 938.34)">s</text><text transform="matrix(0.7217 0 0 0.7384 764.24 938.34)">s</text><text transform="matrix(0.7716 0 0 0.7505 781.89 938.20)">i</text><text transform="matrix(0.7978 0 0 0.7391 791.84 938.34)">o</text><text transform="matrix(0.8006 0 0 0.7321 812.77 938.20)">n</text></g>
<g fill="#262626" font-size="40.0" stroke="#262626" stroke-width="1.0"><text transform="matrix(0 -0.7839 0.7517 0 102.30 314.15)">H</text><text transform="matrix(0 -0.7949 0.7289 0 102.44 289.53)">u</text><text transform="matrix(0 -0.8268 0.7269 0 102.30 268.42)">m</text><text transform="matrix(0 -0.7653 0.7453 0 102.30 237.35)">i</text><text transform="matrix(0 -0.8166 0.7497 0 102.43 227.52)">d</text><text transform="matrix(0 -0.7653 0.7453 0 102.30 205.86)">i</text><text transform="matrix(0 -0.9839 0.7520 0 102.04 196.11)">t</text><text transform="matrix(0 -0.8053 0.7369 0 102.60 181.69)">y</text></g>
<g fill="#262626" font-size="40.0" stroke="#262626" stroke-width="1.0"><text transform="matrix(0 -0.8000 0.7541 0 90.40 842.99)">I</text><text transform="matrix(0 -0.7975 0.7293 0 90.40 832.08)">n</text><text transform="matrix(0 -0.9871 0.7544 0 90.13 811.33)">t</text><text transform="matrix(0 -0.8548 0.7362 0 90.53 797.04)">e</text><text transform="matrix(0 -0.9024 0.7293 0 90.40 776.62)">r</text><text transform="matrix(0 -0.7975 0.7293 0 90.40 761.63)">n</text><text transform="matrix(0 -0.7271 0.7362 0 90.53 740.36)">a</text><text transform="matrix(0 -0.7681 0.7476 0 90.40 720.29)">l</text><text transform="matrix(0 -0.7468 0.7541 0 90.40 699.30)">P</text><text transform="matrix(0 -0.9024 0.7293 0 90.40 678.04)">r</text><text transform="matrix(0 -0.8548 0.7362 0 90.53 663.51)">e</text><text transform="matrix(0 -0.7189 0.7356 0 90.54 642.69)">s</text><text transform="matrix(0 -0.7189 0.7356 0 90.54 624.93)">s</text><text transform="matrix(0 -0.7975 0.7313 0 90.54 607.35)">u</text><text transform="matrix(0 -0.9024 0.7293 0 90.40 586.33)">r</text><text transform="matrix(0 -0.8548 0.7362 0 90.53 571.80)">e</text></g>
<g fill="#262626" font-size="40.0" stroke="#262626" stroke-width="1.0"><text transform="matrix(0.7067 0 0 0.6950 120.80 413.03)">3</text><text transform="matrix(0.7053 0 0 0.6938 139.93 413.07)">5</text></g>
<g fill="#262626" font-size="40.0" stroke="#262626" stroke-width="1.0"><text transform="matrix(0.7270 0 0 0.6895 120.41 330.45)">4</text><text transform="matrix(0.8118 0 0 0.6965 138.71 330.57)">0</text></g>
<g fill="#262626" font-size="40.0" stroke="#262626" stroke-width="1.0"><text transform="matrix(0.7270 0 0 0.6895 120.41 247.95)">4</text><text transform="matrix(0.7053 0 0 0.6938 139.93 248.07)">5</text></g>
<g fill="#262626" font-size="40.0" stroke="#262626" stroke-width="1.0"><text transform="matrix(0.7053 0 0 0.6938 120.87 165.57)">5</text><text transform="matrix(0.8118 0 0 0.6965 138.71 165.57)">0</text></g>
<g fill="#262626" font-size="40.0" stroke="#262626" stroke-width="1.0"><text transform="matrix(0.7053 0 0 0.6938 120.87 83.07)">5</text><text transform="matrix(0.7053 0 0 0.6938 139.93 83.07)">5</text></g>
<g fill="#262626" font-size="40.0" stroke="#262626" stroke-width="1.0"><text transform="matrix(0.7687 0 0 0.6955 108.61 871.07)">9</text><text transform="matrix(0.6761 0 0 0.7013 128.29 870.95)">.</text><text transform="matrix(0.7067 0 0 0.6950 138.92 871.03)">3</text></g>
<g fill="#262626" font-size="40.0" stroke="#262626" stroke-width="1.0"><text transform="matrix(0.7687 0 0 0.6955 108.61 788.87)">9</text><text transform="matrix(0.6761 0 0 0.7013 128.29 788.75)">.</text><text transform="matrix(0.7270 0 0 0.6895 138.53 788.75)">4</text></g>
<g fill="#262626" font-size="40.0" stroke="#262626" stroke-width="1.0"><text transform="matrix(0.7687 0 0 0.6955 108.61 706.67)">9</text><text transform="matrix(0.6761 0 0 0.7013 128.29 706.55)">.</text><text transform="matrix(0.7053 0 0 0.6938 138.98 706.67)">5</text></g>
<g fill="#262626" font-size="40.0" stroke="#262626" stroke-width="1.0"><text transform="matrix(0.7687 0 0 0.6955 108.61 624.47)">9</text><text transform="matrix(0.6761 0 0 0.7013 128.29 624.35)">.</text><text transform="matrix(0.7703 0 0 0.6955 138.31 624.47)">6</text></g>
<g fill="#262626" font-size="40.0" stroke="#262626" stroke-width="1.0"><text transform="matrix(0.7687 0 0 0.6955 108.61 542.27)">9</text><text transform="matrix(0.6761 0 0 0.7013 128.29 542.15)">.</text><text transform="matrix(0.7486 0 0 0.6895 138.28 542.15)">7</text></g>
<g fill="#262626" font-size="40.0" stroke="#262626" stroke-width="1.0"><text transform="matrix(0.8118 0 0 0.6965 159.09 440.22)">0</text></g>
<g fill="#262626" font-size="40.0" stroke="#262626" stroke-width="1.0"><text transform="matrix(0.8118 0 0 0.6965 159.09 899.42)">0</text></g>
<g fill="#262626" font-size="40.0" stroke="#262626" stroke-width="1.0"><text transform="matrix(0.7032 0 0 0.6895 317.50 440.10)">1</text><text transform="matrix(0.8118 0 0 0.6965 335.28 440.22)">0</text></g>
<g fill="#262626" font-size="40.0" stroke="#262626" stroke-width="1.0"><text transform="matrix(0.7032 0 0 0.6895 317.50 899.30)">1</text><text transform="matrix(0.8118 0 0 0.6965 335.28 899.42)">0</text></g>
<g fill="#262626" font-size="40.0" stroke="#262626" stroke-width="1.0"><text transform="matrix(0.7019 0 0 0.6923 484.03 440.10)">2</text><text transform="matrix(0.8118 0 0 0.6965 501.93 440.22)">0</text></g>
<g fill="#262626" font-size="40.0" stroke="#262626" stroke-width="1.0"><text transform="matrix(0.7019 0 0 0.6923 484.03 899.30)">2</text><text transform="matrix(0.8118 0 0 0.6965 501.93 899.42)">0</text></g>
<g fill="#262626" font-size="40.0" stroke="#262626" stroke-width="1.0"><text transform="matrix(0.7067 0 0 0.6950 650.67 440.18)">3</text><text transform="matrix(0.8118 0 0 0.6965 668.58 440.22)">0</text></g>
<g fill="#262626" font-size="40.0" stroke="#262626" stroke-width="1.0"><text transform="matrix(0.7067 0 0 0.6950 650.67 899.38)">3</text><text transform="matrix(0.8118 0 0 0.6965 668.58 899.42)">0</text></g>
<g fill="#262626" font-size="40.0" stroke="#262626" stroke-width="1.0"><text transform="matrix(0.7270 0 0 0.6895 816.93 440.10)">4</text><text transform="matrix(0.8118 0 0 0.6965 835.23 440.22)">0</text></g>
<g fill="#262626" font-size="40.0" stroke="#262626" stroke-width="1.0"><text transform="matrix(0.7270 0 0 0.6895 816.93 899.30)">4</text><text transform="matrix(0.8118 0 0 0.6965 835.23 899.42)">0</text></g>
<g fill="#262626" font-size="40.0" stroke="#262626" stroke-width="1.0"><text transform="matrix(0.7053 0 0 0.6938 984.03 440.22)">5</text><text transform="matrix(0.8118 0 0 0.6965 1001.88 440.22)">0</text></g>
<g fill="#262626" font-size="40.0" stroke="#262626" stroke-width="1.0"><text transform="matrix(0.7053 0 0 0.6938 984.03 899.42)">5</text><text transform="matrix(0.8118 0 0 0.6965 1001.88 899.42)">0</text></g>
<g fill="#262626" font-size="40.0" stroke="#262626" stroke-width="1.0"><text transform="matrix(0.7703 0 0 0.6955 1150.01 440.22)">6</text><text transform="matrix(0.8118 0 0 0.6965 1168.53 440.22)">0</text></g>
<g fill="#262626" font-size="40.0" stroke="#262626" stroke-width="1.0"><text transform="matrix(0.7703 0 0 0.6955 1150.01 899.42)">6</text><text transform="matrix(0.8118 0 0 0.6965 1168.53 899.42)">0</text></g>
</svg></body></html>
